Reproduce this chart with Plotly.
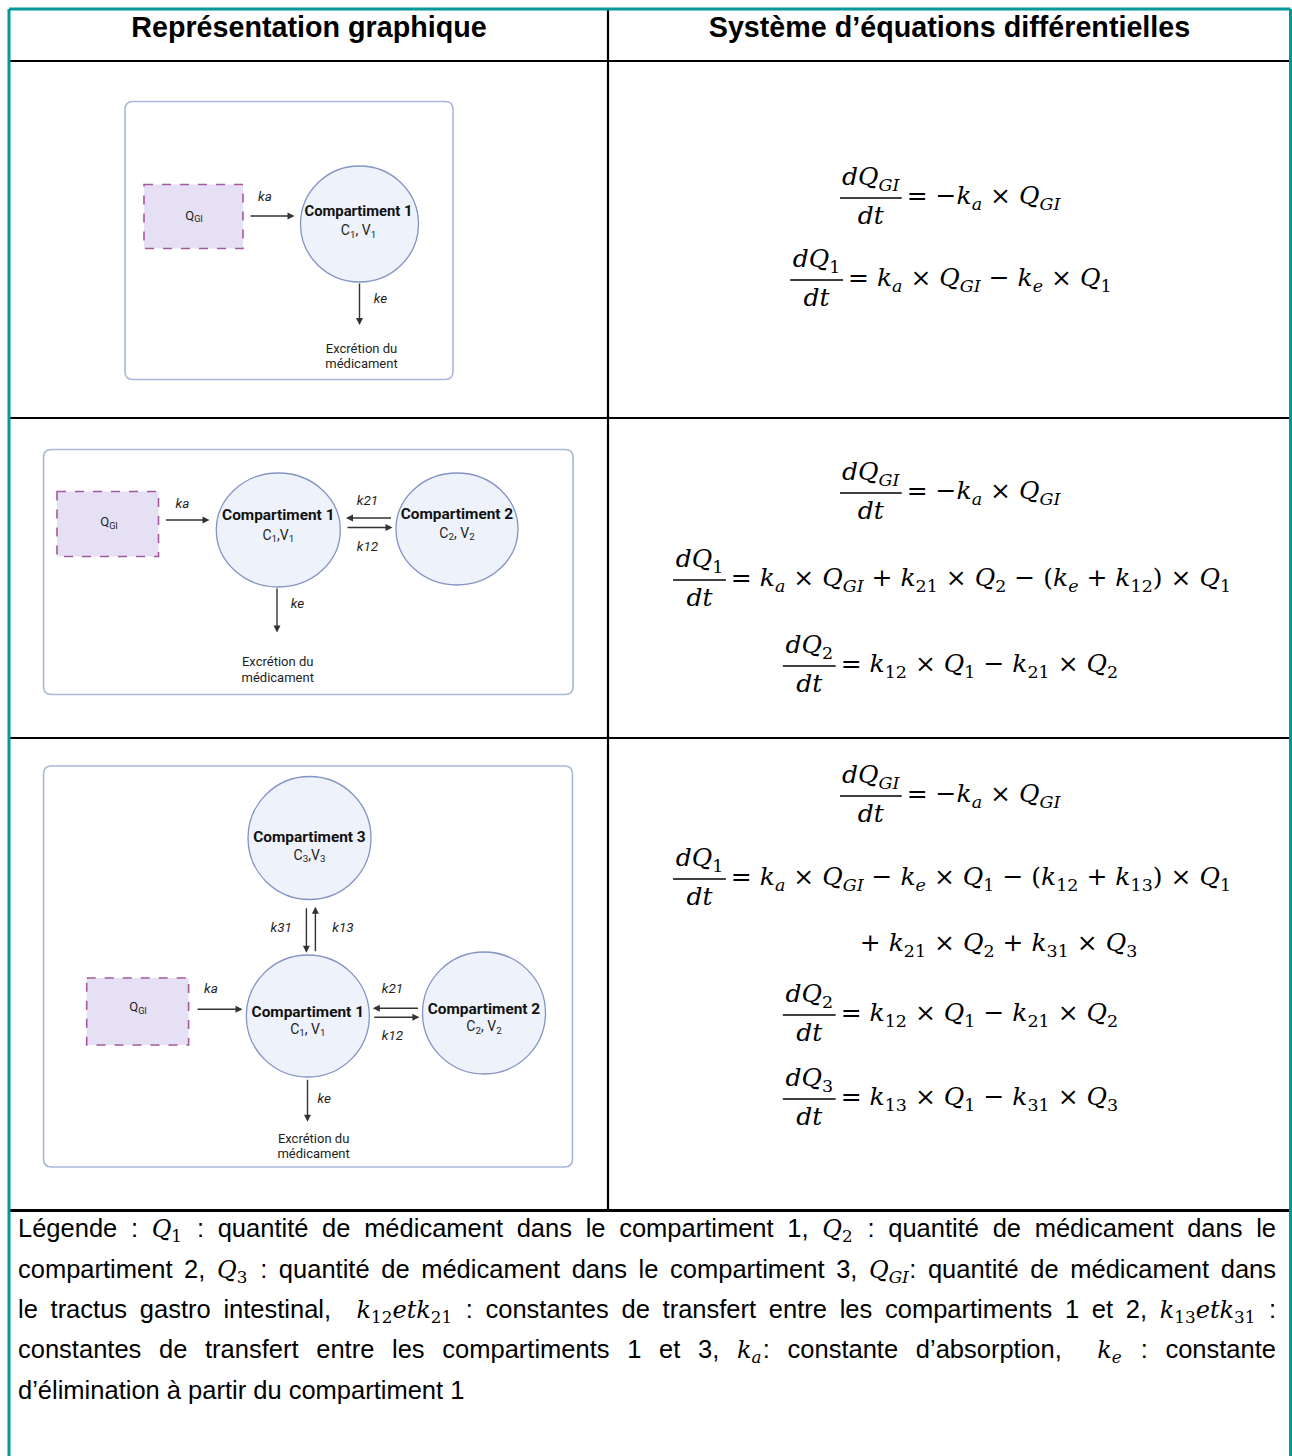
import plotly.graph_objects as go

# ======================= DATA =======================
header_labels = ["Représentation graphique", "Système d’équations différentielles"]

compartment_names = ["Compartiment 1", "Compartiment 2", "Compartiment 3"]
diagram1_volumes = ["C<sub>1</sub>, V<sub>1</sub>"]
diagram2_volumes = ["C<sub>1</sub>,V<sub>1</sub>", "C<sub>2</sub>, V<sub>2</sub>"]
diagram3_volumes = ["C<sub>1</sub>, V<sub>1</sub>", "C<sub>2</sub>, V<sub>2</sub>", "C<sub>3</sub>,V<sub>3</sub>"]
gi_label = "Q<sub>GI</sub>"
rate_names = ["ka", "ke", "k21", "k12", "k31", "k13"]
excretion_lines = ["Excrétion du", "médicament"]

eq_row1 = [("dQ_{GI}", "dt", "= −k_a × Q_{GI}"),
           ("dQ_1", "dt", "= k_a × Q_{GI} − k_e × Q_1")]
eq_row2 = [("dQ_{GI}", "dt", "= −k_a × Q_{GI}"),
           ("dQ_1", "dt", "= k_a × Q_{GI} + k_{21} × Q_2 − (k_e + k_{12}) × Q_1"),
           ("dQ_2", "dt", "= k_{12} × Q_1 − k_{21} × Q_2")]
eq_row3 = [("dQ_{GI}", "dt", "= −k_a × Q_{GI}"),
           ("dQ_1", "dt", "= k_a × Q_{GI} − k_e × Q_1 − (k_{12} + k_{13}) × Q_1"),
           ("", "", "+ k_{21} × Q_2 + k_{31} × Q_3"),
           ("dQ_2", "dt", "= k_{12} × Q_1 − k_{21} × Q_2"),
           ("dQ_3", "dt", "= k_{13} × Q_1 − k_{31} × Q_3")]

legend_line1 = ["Légende", ":", "$Q_1$", ":", "quantité", "de", "médicament", "dans", "le",
                "compartiment", "1,", "$Q_2$", ":", "quantité", "de", "médicament", "dans", "le"]
legend_line2 = ["compartiment", "2,", "$Q_3$", ":", "quantité", "de", "médicament", "dans", "le",
                "compartiment", "3,", "$Q_{GI}$:", "quantité", "de", "médicament", "dans"]
legend_line3 = ["le", "tractus", "gastro", "intestinal,", "", "$k_{12}etk_{21}$", ":", "constantes",
                "de", "transfert", "entre", "les", "compartiments", "1", "et", "2,", "$k_{13}etk_{31}$", ":"]
legend_line4 = ["constantes", "de", "transfert", "entre", "les", "compartiments", "1", "et", "3,",
                "$k_a$:", "constante", "d’absorption,", "", "$k_e$", ":", "constante"]
legend_line5 = ["d’élimination", "à", "partir", "du", "compartiment", "1"]

# ======================= STYLE / GEOMETRY =======================
W, H = 1292, 1456
TEAL = "#03989a"
SANS = "Liberation Sans, Arial, sans-serif"
ROBOTO = "Roboto, sans-serif"
SERIF = "DejaVu Serif, serif"
BOX_LINE = "#a9b7da"
CIRC_FILL = "#eef2fa"
CIRC_LINE = "#8393c4"
GI_FILL = "#e6e0f4"
GI_LINE = "#a4599e"
ARROW = "#333333"
TXT = "#1e1e1e"

EQ_FS = 25
LEG_FS = 25.5
LEG_MATH_FS = 24
EQ_CX = 949
HEAD_FS = 28.7

ARIAL_W = {' ': .278, ',': .278, '.': .278, ':': .278, '’': .222, 'L': .556,
           'a': .556, 'b': .556, 'c': .5, 'd': .556, 'e': .556, 'f': .278, 'g': .556, 'h': .556,
           'i': .222, 'j': .222, 'k': .5, 'l': .222, 'm': .833, 'n': .556, 'o': .556, 'p': .556,
           'q': .556, 'r': .333, 's': .5, 't': .278, 'u': .556, 'v': .5, 'w': .722, 'x': .5,
           'y': .5, 'z': .5, 'é': .556, 'è': .556, 'à': .556}
SERIF_W = {' ': .318, '=': .838, '−': .838, '×': .838, '+': .838, '(': .39, ')': .39,
           'd': .64, 'Q': .787, 'G': .775, 'I': .372, 'k': .579, 'a': .596, 'e': .592, 't': .402}


def math_parse(s):
    """list of (char, is_sub)"""
    i = 0
    out = []
    while i < len(s):
        c = s[i]
        if c == '_':
            if s[i + 1] == '{':
                j = s.index('}', i)
                sub = s[i + 2:j]
                i = j + 1
            else:
                sub = s[i + 1]
                i += 2
            out += [(ch, True) for ch in sub]
        else:
            out.append((c, False))
            i += 1
    return out


def math_html(s):
    html = ''
    in_sub = False
    for c, sub in math_parse(s):
        if sub and not in_sub:
            html += '<sub>'
            in_sub = True
        if not sub and in_sub:
            html += '</sub>'
            in_sub = False
        html += f'<i>{c}</i>' if c.isalpha() else c
    if in_sub:
        html += '</sub>'
    return html


def math_width(s, fs):
    w = 0
    for c, sub in math_parse(s):
        cw = SERIF_W.get(c, .636)
        w += cw * (0.7 if sub else 1.0)
    return w * fs


def sans_width(s, fs):
    return sum(ARIAL_W.get(c, .556) for c in s) * fs


fig = go.Figure()
texts = {}


def add_text(x, y, text, size, family=SANS, color=TXT, pos="middle center"):
    key = (size, family, color, pos)
    texts.setdefault(key, ([], [], []))
    texts[key][0].append(x)
    texts[key][1].append(y)
    texts[key][2].append(text)


def add_line(x0, y0, x1, y1, color, width):
    fig.add_shape(type="line", x0=x0, y0=y0, x1=x1, y1=y1, xref="x", yref="y",
                  line=dict(color=color, width=width), layer="below")


def rrect(x0, y0, x1, y1, r=8):
    p = (f"M{x0 + r},{y0} L{x1 - r},{y0} Q{x1},{y0} {x1},{y0 + r} L{x1},{y1 - r} "
         f"Q{x1},{y1} {x1 - r},{y1} L{x0 + r},{y1} Q{x0},{y1} {x0},{y1 - r} "
         f"L{x0},{y0 + r} Q{x0},{y0} {x0 + r},{y0} Z")
    fig.add_shape(type="path", path=p, xref="x", yref="y", fillcolor="white",
                  line=dict(color=BOX_LINE, width=1.6), layer="below")


def circle(cx, cy, rx, ry):
    fig.add_shape(type="circle", x0=cx - rx, x1=cx + rx, y0=cy - ry, y1=cy + ry, xref="x", yref="y",
                  fillcolor=CIRC_FILL, line=dict(color=CIRC_LINE, width=1.3), layer="below")


def gi_rect(x0, y0, x1, y1):
    fig.add_shape(type="rect", x0=x0, x1=x1, y0=y0, y1=y1, xref="x", yref="y",
                  fillcolor=GI_FILL, line=dict(color=GI_LINE, width=1.6, dash="dash"), layer="below")


def arrow(x0, y0, x1, y1):
    fig.add_annotation(x=x1, y=y1, ax=x0, ay=y0, xref="x", yref="y", axref="x", ayref="y",
                       text="", showarrow=True, arrowhead=2, arrowsize=1, arrowwidth=1.4,
                       arrowcolor=ARROW, standoff=0, startstandoff=0)


def rate(x, y, name, fs=13.5):
    add_text(x, y, f"<i>{name}</i>", fs, ROBOTO, TXT)


def comp(cx, y_name, y_sub, name, sub, fs_name, fs_sub=14):
    add_text(cx, y_name, f"<b>{name}</b>", fs_name, ROBOTO, "#111111")
    add_text(cx, y_sub, sub, fs_sub, ROBOTO, TXT)


def excretion(x, y1, y2, fs=13):
    add_text(x, y1, excretion_lines[0], fs, ROBOTO, TXT)
    add_text(x, y2, excretion_lines[1], fs, ROBOTO, TXT)


# ======================= TABLE =======================
add_line(9.5, 1210.5, 1290.5, 1210.5, "black", 3)
add_line(9.5, 61, 1290.5, 61, "black", 2.2)
add_line(9.5, 418, 1290.5, 418, "black", 2.2)
add_line(9.5, 738, 1290.5, 738, "black", 2.2)
add_line(608, 9, 608, 1210, "black", 2.2)
add_line(9, 9, 9, 1470, TEAL, 3)
add_line(9, 9, 1290.5, 9, TEAL, 3)
add_line(1290.5, 9, 1290.5, 1470, TEAL, 3)

add_text(309, 30, f"<b>{header_labels[0]}</b>", HEAD_FS, SANS, "black")
add_text(949.5, 30, f"<b>{header_labels[1]}</b>", HEAD_FS, SANS, "black")

# ======================= DIAGRAM 1 =======================
rrect(125, 101.5, 453, 379.5)
gi_rect(144, 184.5, 243, 248.5)
add_text(194, 216.5, gi_label, 13, ROBOTO, TXT)
circle(359.5, 224, 59, 58)
comp(358.5, 212.5, 231.5, compartment_names[0], diagram1_volumes[0], 14.8)
arrow(249, 216, 294.5, 216)
rate(265, 198, rate_names[0])
arrow(359.5, 282, 359.5, 325)
rate(380.5, 300, rate_names[1])
excretion(361.5, 349.5, 365)

# ======================= DIAGRAM 2 =======================
rrect(43.5, 449.5, 573, 694.5)
gi_rect(57, 491.5, 158.5, 556.5)
add_text(109, 523, gi_label, 13, ROBOTO, TXT)
circle(278.3, 530, 62, 57)
circle(457, 529, 61, 56)
comp(278.3, 516, 536, compartment_names[0], diagram2_volumes[0], 15.4)
comp(457, 515, 534, compartment_names[1], diagram2_volumes[1], 15.4)
arrow(164.5, 520, 209.5, 520)
rate(182.5, 505, rate_names[0])
arrow(392.5, 518, 346, 518)
arrow(346, 527.5, 392.5, 527.5)
rate(367.5, 502, rate_names[2])
rate(367.5, 548, rate_names[3])
arrow(277, 587, 277, 632.5)
rate(297.5, 605, rate_names[1])
excretion(277.7, 662.7, 678.3)

# ======================= DIAGRAM 3 =======================
rrect(43.5, 766, 572.5, 1167)
gi_rect(86.7, 978, 188.6, 1045)
add_text(138, 1008, gi_label, 13, ROBOTO, TXT)
circle(309.5, 838, 61.5, 61.5)
circle(307.8, 1016, 61.5, 61)
circle(484, 1013, 61.5, 61)
comp(309.5, 838.3, 856, compartment_names[2], diagram3_volumes[2], 15.4)
comp(307.8, 1012.7, 1030, compartment_names[0], diagram3_volumes[0], 15.4)
comp(484, 1010, 1027.7, compartment_names[1], diagram3_volumes[1], 15.4)
arrow(196, 1009.3, 242.5, 1009.3)
rate(211, 990, rate_names[0])
arrow(419.4, 1008.3, 372.8, 1008.3)
arrow(372.8, 1017.3, 419.4, 1017.3)
rate(392.5, 990, rate_names[2])
rate(392.5, 1036.7, rate_names[3])
arrow(306.4, 906.7, 306.4, 952.7)
arrow(315.4, 952.7, 315.4, 906.7)
rate(281.3, 928.3, rate_names[4])
rate(343, 928.3, rate_names[5])
arrow(307.5, 1078.3, 307.5, 1121.7)
rate(324.3, 1099.3, rate_names[1])
excretion(313.6, 1139.3, 1154.3)


# ======================= EQUATIONS =======================
def equation(bar_y, num, den, body, cx=EQ_CX):
    fs = EQ_FS
    body_w = math_width(body, fs)
    if num:
        bar_len = max(math_width(num, fs), math_width(den, fs)) + 6
        gap = 5
    else:
        bar_len, gap = 0, 0
    total = bar_len + gap + body_w
    x0 = cx - total / 2
    if num:
        add_line(x0, bar_y, x0 + bar_len, bar_y, "black", 1.4)
        add_text(x0 + bar_len / 2, bar_y - 19, math_html(num), fs, SERIF, "black")
        add_text(x0 + bar_len / 2, bar_y + 20, math_html(den), fs, SERIF, "black")
    add_text(x0 + bar_len + gap, bar_y, math_html(body), fs, SERIF, "black", "middle right")


for (num, den, body), y in zip(eq_row1, [198, 280]):
    equation(y, num, den, body)
for (num, den, body), y in zip(eq_row2, [493, 580, 666]):
    equation(y, num, den, body)
row3_y = [796, 879, 945, 1015, 1099]
for k, ((num, den, body), y) in enumerate(zip(eq_row3, row3_y)):
    if k == 2:
        equation(y, num, den, body, cx=997)
    else:
        equation(y, num, den, body)


# ======================= LEGEND (justified) =======================
def token_parts(tok):
    parts = tok.split('$')
    res = []
    for k, p in enumerate(parts):
        if not p:
            continue
        if k % 2 == 0:
            res.append((p, sans_width(p, LEG_FS), False))
        else:
            res.append((p, math_width(p, LEG_MATH_FS) + 2, True))
    return res


def legend_line(tokens, y, x_left=18, x_right=1276, justify=True):
    parts = [token_parts(t) for t in tokens]
    widths = [sum(w for _, w, _ in p) for p in parts]
    if justify:
        gap = (x_right - x_left - sum(widths)) / (len(tokens) - 1)
    else:
        gap = ARIAL_W[' '] * LEG_FS
    x = x_left
    for p, w in zip(parts, widths):
        xx = x
        for s, pw, is_math in p:
            if is_math:
                add_text(xx, y, math_html(s), LEG_MATH_FS, SERIF, "black", "middle right")
            else:
                add_text(xx, y, s, LEG_FS, SANS, "black", "middle right")
            xx += pw
        x += w + gap


legend_line(legend_line1, 1231)
legend_line(legend_line2, 1272)
legend_line(legend_line3, 1312)
legend_line(legend_line4, 1352)
legend_line(legend_line5, 1393, justify=False)

# ======================= TEXT TRACES =======================
for (size, family, color, pos), (xs, ys, ts) in texts.items():
    fig.add_trace(go.Scatter(x=xs, y=ys, text=ts, mode="text", textposition=pos,
                             textfont=dict(size=size, family=family, color=color),
                             hoverinfo="skip", showlegend=False, cliponaxis=False))

fig.update_layout(
    width=W, height=H, margin=dict(l=0, r=0, t=0, b=0),
    paper_bgcolor="white", plot_bgcolor="white", showlegend=False, hovermode=False,
    xaxis=dict(range=[0, W], visible=False, fixedrange=True),
    yaxis=dict(range=[H, 0], visible=False, fixedrange=True),
)

fig.write_html("out.html", config={"displayModeBar": False, "staticPlot": True},
               post_script="document.body.style.margin='0';document.body.style.overflow='hidden';")
